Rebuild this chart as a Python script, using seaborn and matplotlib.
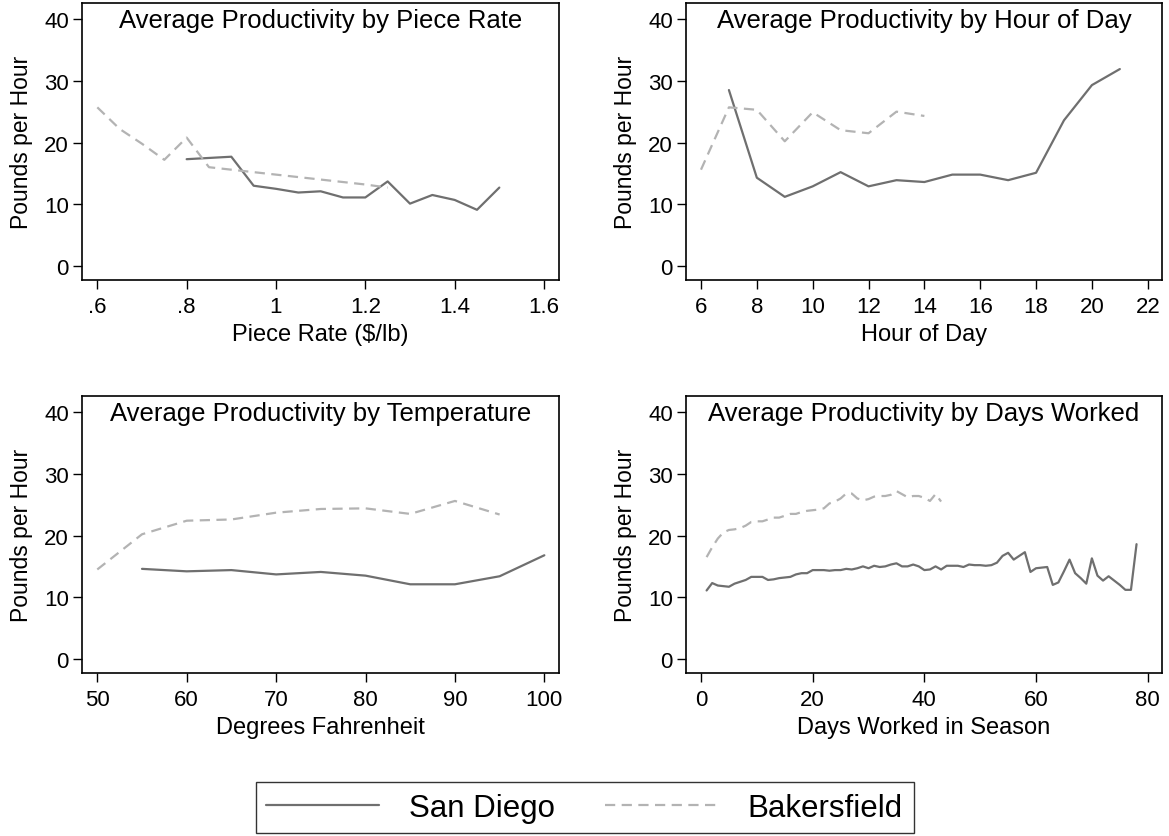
"""
Average productivity panels: San Diego vs Bakersfield
"""
import numpy as np
import pandas as pd
import matplotlib
matplotlib.use('Agg')
import matplotlib.pyplot as plt
from matplotlib.lines import Line2D
import seaborn as sns

# ---- data ----
rate_sd = [0.80, 0.85, 0.90, 0.95, 1.00, 1.05, 1.10, 1.15, 1.20, 1.25, 1.30, 1.35, 1.40, 1.45, 1.50]
prod_rate_sd = [17.3, 17.5, 17.7, 13.0, 12.5, 11.9, 12.1, 11.1, 11.1, 13.7, 10.1, 11.5, 10.7, 9.1, 12.7]
rate_bk = [0.60, 0.65, 0.70, 0.75, 0.80, 0.85, 0.90, 0.95, 1.00, 1.05, 1.10, 1.15, 1.20, 1.25]
prod_rate_bk = [25.7, 22.2, 19.8, 17.2, 20.8, 16.0, 15.6, 15.2, 14.8, 14.4, 14.0, 13.6, 13.2, 12.7]

hour_sd = [7, 8, 9, 10, 11, 12, 13, 14, 15, 16, 17, 18, 19, 20, 21]
prod_hour_sd = [28.5, 14.3, 11.2, 12.9, 15.2, 12.9, 13.9, 13.6, 14.8, 14.8, 13.9, 15.1, 23.6, 29.3, 31.9]
hour_bk = [6, 7, 8, 9, 10, 11, 12, 13, 14]
prod_hour_bk = [15.6, 25.7, 25.3, 20.2, 24.9, 22.0, 21.5, 25.0, 24.3]

temp_sd = [55, 60, 65, 70, 75, 80, 85, 90, 95, 100]
prod_temp_sd = [14.6, 14.2, 14.4, 13.7, 14.1, 13.5, 12.1, 12.1, 13.4, 16.8]
temp_bk = [50, 55, 60, 65, 70, 75, 80, 85, 90, 95]
prod_temp_bk = [14.5, 20.2, 22.4, 22.6, 23.7, 24.3, 24.4, 23.5, 25.6, 23.4]

days_sd = list(range(1, 79))
prod_days_sd = [11.1, 12.3, 11.9, 11.8, 11.7, 12.2, 12.5, 12.8, 13.3, 13.3,
                13.3, 12.8, 12.9, 13.1, 13.2, 13.3, 13.7, 13.9, 13.9, 14.4,
                14.4, 14.4, 14.3, 14.4, 14.4, 14.6, 14.5, 14.7, 15.0, 14.7,
                15.1, 14.9, 15.0, 15.3, 15.5, 15.0, 15.0, 15.3, 15.0, 14.4,
                14.5, 15.0, 14.5, 15.1, 15.1, 15.1, 14.9, 15.3, 15.2, 15.2,
                15.1, 15.2, 15.6, 16.7, 17.2, 16.1, 16.7, 17.3, 14.1, 14.7,
                14.8, 14.9, 12.0, 12.4, 14.2, 16.1, 13.9, 13.1, 12.2, 16.3,
                13.5, 12.7, 13.4, 12.7, 12.0, 11.2, 11.2, 18.6]
days_bk = list(range(1, 44))
prod_days_bk = [16.5, 18.1, 19.5, 20.5, 20.9, 21.0, 21.2, 21.6, 22.2, 22.3,
                22.3, 22.6, 22.9, 22.9, 23.2, 23.5, 23.5, 23.8, 24.0, 24.1,
                24.2, 24.4, 25.2, 25.5, 26.0, 26.8, 26.8, 26.0, 25.7, 25.9,
                26.3, 26.4, 26.4, 26.6, 27.2, 26.7, 26.2, 26.4, 26.4, 26.1,
                25.6, 26.7, 25.5]

sites = ['San Diego', 'Bakersfield']
y_ticks = [0, 10, 20, 30, 40]

SD_COLOR = '#6f6f6f'
BK_COLOR = '#b3b3b3'
BK_DASH = (0, (4.6, 2.9))

sns.set_style('white')
plt.rcParams['font.family'] = ['Liberation Sans', 'DejaVu Sans']
plt.rcParams['axes.edgecolor'] = 'black'
plt.rcParams['axes.linewidth'] = 1.2
plt.rcParams['text.color'] = 'black'
plt.rcParams['axes.labelcolor'] = 'black'
plt.rcParams['xtick.color'] = 'black'
plt.rcParams['ytick.color'] = 'black'

fig = plt.figure(figsize=(11.69, 8.37), dpi=100)

W, H = 1169, 837
# (title, xlabel, sd x, sd y, bk x, bk y, xlim, xticks, xticklabels, box in px)
panels = [
    ('Average Productivity by Piece Rate', 'Piece Rate ($/lb)',
     rate_sd, prod_rate_sd, rate_bk, prod_rate_bk,
     (0.5657, 1.6336), [0.6, 0.8, 1.0, 1.2, 1.4, 1.6],
     ['.6', '.8', '1', '1.2', '1.4', '1.6'], (82, 4, 559, 281)),
    ('Average Productivity by Hour of Day', 'Hour of Day',
     hour_sd, prod_hour_sd, hour_bk, prod_hour_bk,
     (5.463, 22.51), list(range(6, 23, 2)),
     [str(v) for v in range(6, 23, 2)], (686, 4, 1162, 281)),
    ('Average Productivity by Temperature', 'Degrees Fahrenheit',
     temp_sd, prod_temp_sd, temp_bk, prod_temp_bk,
     (48.29, 101.64), list(range(50, 101, 10)),
     [str(v) for v in range(50, 101, 10)], (82, 397, 559, 674)),
    ('Average Productivity by Days Worked', 'Days Worked in Season',
     days_sd, prod_days_sd, days_bk, prod_days_bk,
     (-2.69, 82.56), list(range(0, 81, 20)),
     [str(v) for v in range(0, 81, 20)], (686, 397, 1162, 674)),
]

for title, xlabel, xs, ys, xb, yb, xlim, xticks, xtl, box in panels:
    x0, y0, x1, y1 = box
    ax = fig.add_axes([x0 / W, 1 - y1 / H, (x1 - x0) / W, (y1 - y0) / H])

    df_sd = pd.DataFrame({'x': xs, 'y': ys})
    df_bk = pd.DataFrame({'x': xb, 'y': yb})
    sns.lineplot(data=df_sd, x='x', y='y', ax=ax, color=SD_COLOR, linewidth=1.6)
    sns.lineplot(data=df_bk, x='x', y='y', ax=ax, color=BK_COLOR, linewidth=1.6,
                 linestyle=BK_DASH)

    ax.set_xlim(*xlim)
    ax.set_ylim(-2.27, 42.6)
    ax.set_xticks(xticks)
    ax.set_xticklabels(xtl)
    ax.set_yticks(y_ticks)
    ax.tick_params(direction='out', length=6.5, width=1.0, labelsize=16,
                   colors='black', pad=3, bottom=True, left=True)
    ax.tick_params(axis='x', pad=5)
    ax.set_xlabel(xlabel, fontsize=17, labelpad=4, color='black')
    ax.set_ylabel('Pounds per Hour', fontsize=16.5, labelpad=8, color='black')
    ax.set_title(title, fontsize=18.5, y=1.0, pad=-17.5, color='black')
    for s in ax.spines.values():
        s.set_visible(True)
        s.set_color('black')
        s.set_linewidth(1.2)

handles = [Line2D([], [], color=SD_COLOR, linewidth=1.6),
           Line2D([], [], color=BK_COLOR, linewidth=1.6, linestyle=BK_DASH)]
leg = fig.legend(handles, sites, loc='lower center', bbox_to_anchor=(0.5, 0.003),
                 ncol=2, fontsize=22.5, frameon=True, fancybox=False,
                 handlelength=3.6, handletextpad=0.96, columnspacing=1.6,
                 borderpad=0.35, borderaxespad=0, edgecolor='black',
                 labelcolor='black')
leg.get_frame().set_linewidth(1.0)

fig.savefig('out.png', dpi=100)
